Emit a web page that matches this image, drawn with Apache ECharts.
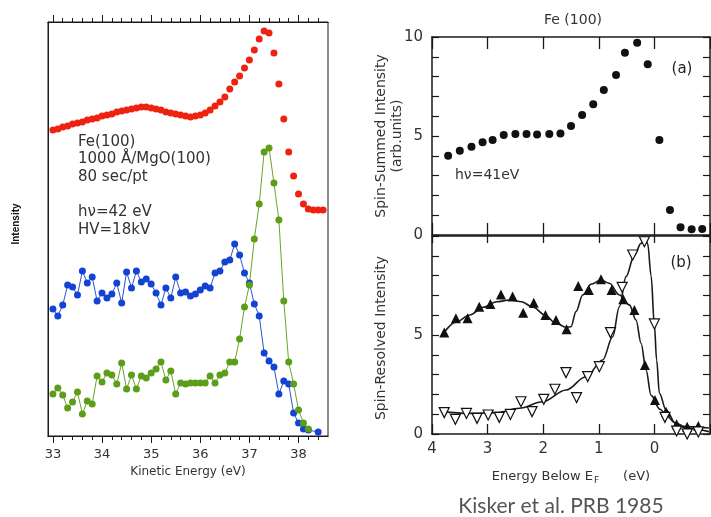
<!DOCTYPE html>
<html>
<head>
<meta charset="utf-8">
<title>Fe(100)</title>
<script src="https://cdn.jsdelivr.net/npm/echarts@6/dist/echarts.min.js"></script>
<style>
  html, body { margin: 0; padding: 0; background: #fff; }
  #chart { width: 711px; height: 517px; }
</style>
</head>
<body>
<div id="chart"></div>
<script>
// ---- left panel: kinetic energy scan (eV), arbitrary counts ----
var kineticEnergy = [
  33.0, 33.1, 33.2, 33.3, 33.4, 33.5, 33.6, 33.7, 33.8, 33.9,
  34.0, 34.1, 34.2, 34.3, 34.4, 34.5, 34.6, 34.7, 34.8, 34.9,
  35.0, 35.1, 35.2, 35.3, 35.4, 35.5, 35.6, 35.7, 35.8, 35.9,
  36.0, 36.1, 36.2, 36.3, 36.4, 36.5, 36.6, 36.7, 36.8, 36.9,
  37.0, 37.1, 37.2, 37.3, 37.4, 37.5, 37.6, 37.7, 37.8, 37.9,
  38.0, 38.1, 38.2, 38.3, 38.4, 38.5
];
var redCounts = [
  306, 307, 309, 310, 312, 313, 314, 316, 317, 318,
  320, 321, 322, 324, 325, 326, 327, 328, 329, 329,
  328, 327, 326, 324, 323, 322, 321, 320, 319, 320,
  321, 323, 326, 330, 334, 339, 347, 354, 360, 368,
  376, 386, 397, 405, 403, 383, 352, 317, 284, 260,
  242, 232, 227, 226, 226, 226
];
var blueCounts = [
  127, 120, 131, 151, 149, 141, 165, 153, 159, 135,
  143, 138, 142, 153, 133, 164, 148, 165, 154, 157,
  152, 143, 131, 148, 138, 159, 143, 144, 140, 142,
  146, 150, 148, 163, 165, 174, 176, 192, 181, 163,
  153, 132, 120, 83, 75, 69, 42, 55, 52, 23,
  13, 7, 6, null, 4
];
var greenCounts = [
  42, 48, 41, 28, 34, 44, 22, 35, 32, 60,
  54, 63, 61, 52, 73, 47, 61, 47, 60, 58,
  63, 67, 74, 56, 65, 42, 53, 52, 53, 53,
  53, 53, 60, 53, 61, 63, 74, 74, 97, 129,
  151, 197, 232, 284, 288, 253, 216, 135, 74, 52,
  26, 13, 7
];
var kineticMajorTicks = [33, 34, 35, 36, 37, 38];
var kineticMinorTicks = [
  33.2, 33.4, 33.6, 33.8, 34.2, 34.4, 34.6, 34.8, 35.2, 35.4, 35.6, 35.8,
  36.2, 36.4, 36.6, 36.8, 37.2, 37.4, 37.6, 37.8, 38.2, 38.4
];

// ---- right panel: energy below E_F (eV) ----
var summedEnergy = [3.71, 3.50, 3.29, 3.09, 2.91, 2.71, 2.50, 2.30, 2.11, 1.89, 1.69, 1.50,
  1.30, 1.10, 0.91, 0.69, 0.53, 0.31, 0.12, -0.09, -0.28, -0.47, -0.67, -0.86];
var summedIntensity = [4.0, 4.26, 4.46, 4.68, 4.8, 5.05, 5.1, 5.1, 5.08, 5.1, 5.13, 5.5,
  6.06, 6.6, 7.32, 8.08, 9.2, 9.71, 8.62, 4.8, 1.26, 0.39, 0.29, 0.3];

var majorityEnergy = [3.78, 3.57, 3.36, 3.15, 2.95, 2.76, 2.55, 2.36, 2.17, 1.96, 1.77, 1.58,
  1.37, 1.18, 0.96, 0.77, 0.56, 0.36, 0.17, -0.01, -0.21, -0.40, -0.59, -0.79];
var majorityIntensity = [5.12, 5.84, 5.84, 6.43, 6.57, 7.05, 6.94, 6.13, 6.63, 6.01, 5.76, 5.29,
  7.47, 7.27, 7.81, 7.27, 6.8, 6.26, 3.48, 1.72, 1.13, 0.49, 0.37, 0.4];
var minorityEnergy = [3.78, 3.58, 3.38, 3.19, 2.99, 2.79, 2.59, 2.40, 2.20, 1.99, 1.79, 1.59,
  1.40, 1.20, 0.99, 0.79, 0.58, 0.39, 0.18, 0.0, -0.19, -0.40, -0.59, -0.79];
var minorityIntensity = [1.08, 0.74, 1.04, 0.79, 0.96, 0.84, 0.99, 1.63, 1.13, 1.75, 2.26, 3.1,
  1.84, 2.9, 3.4, 5.12, 7.41, 9.04, 9.71, 5.56, 0.84, 0.15, 0.0, 0.1];

var majorityFitEnergy = [3.83, 3.56, 3.32, 3.08, 2.84, 2.60, 2.39, 2.18, 1.97, 1.77, 1.59, 1.50,
  1.41, 1.29, 1.14, 0.96, 0.81, 0.63, 0.45, 0.33, 0.24, 0.15, 0.06, -0.10, -0.23, -0.36, -0.56, -0.98];
var majorityFit = [4.95, 5.67, 6.01, 6.4, 6.68, 6.77, 6.68, 6.4, 6.01, 5.59, 5.39, 5.42,
  6.18, 7.02, 7.56, 7.78, 7.61, 7.02, 6.52, 5.76, 4.58, 3.23, 1.95, 1.25, 0.9, 0.58, 0.37, 0.3];
var minorityFitEnergy = [3.83, 3.32, 2.84, 2.43, 2.01, 1.59, 1.23, 0.93, 0.75, 0.63, 0.51, 0.36,
  0.24, 0.17, 0.12, 0.06, 0.0, -0.04, -0.09, -0.21, -0.38, -0.55, -0.98];
var minorityFit = [1.13, 1.04, 1.08, 1.30, 1.63, 2.22, 2.89, 3.74, 4.91, 6.43, 7.95, 9.04,
  9.63, 9.95, 9.6, 8.0, 5.5, 3.74, 2.06, 1.21, 0.54, 0.3, 0.12];

var bindingTickLabels = [4, 3, 2, 1, 0];
var summedTickLabels = [0, 5, 10];
var resolvedTickLabels = [0, 5];

function pairs(xs, ys) {
  return ys.map(function (y, i) { return [xs[i], y]; });
}

var ink = '#1a1a1a';
var scanFont = 'DejaVu Sans';

function leftX(pos, ticks, len, withLabel) {
  return {
    gridIndex: 0, type: 'value', min: 32.9, max: 38.6, position: pos,
    axisLine: { show: true, onZero: false, lineStyle: { color: ink, width: 1 } },
    axisTick: { show: true, inside: false, length: len, customValues: ticks,
      lineStyle: { color: ink, width: 1 } },
    axisLabel: withLabel
      ? { show: true, customValues: ticks, fontSize: 13, color: '#333', margin: 12, fontFamily: scanFont }
      : { show: false },
    splitLine: { show: false }
  };
}

function rightX(grid, pos, len) {
  return {
    gridIndex: grid, type: 'value', min: -1, max: 4, interval: 1, inverse: true, position: pos,
    axisLine: { show: true, onZero: false, lineStyle: { color: ink, width: 1.5 } },
    axisTick: { show: true, inside: true, length: len, lineStyle: { color: ink, width: 1.3 } },
    axisLabel: { show: false },
    splitLine: { show: false }
  };
}

function rightY(grid, pos, labels) {
  return {
    gridIndex: grid, type: 'value', min: 0, max: 10, interval: 1, position: pos,
    axisLine: { show: true, onZero: false, lineStyle: { color: ink, width: 1.5 } },
    axisTick: { show: true, inside: true, length: 7, lineStyle: { color: ink, width: 1.2 } },
    axisLabel: labels
      ? { show: true, customValues: labels, fontSize: 15, color: '#333', margin: 9, fontFamily: scanFont }
      : { show: false },
    splitLine: { show: false }
  };
}

var xb = rightX(2, 'bottom', 10);
xb.axisLabel = { show: true, customValues: bindingTickLabels, fontSize: 15, color: '#333', margin: 8, fontFamily: scanFont };
xb.name = '{a|Energy Below E}{s|F}{g|}{a|(eV)}';
xb.nameLocation = 'middle';
xb.nameGap = 35;
xb.nameTextStyle = {
  rich: {
    a: { fontSize: 13, color: '#333', fontFamily: scanFont },
    s: { fontSize: 9, color: '#333', fontFamily: scanFont, padding: [7, 0, 0, 1] },
    g: { width: 24 }
  }
};

var leftBottom = leftX('bottom', kineticMajorTicks, 7, true);
leftBottom.name = 'Kinetic Energy (eV)';
leftBottom.nameLocation = 'middle';
leftBottom.nameGap = 27;
leftBottom.nameTextStyle = { fontSize: 12, color: '#333', fontFamily: scanFont };

var option = {
  backgroundColor: '#fff',
  animation: false,
  grid: [
    { left: 48, top: 22, width: 280, height: 414, show: true, borderColor: ink, borderWidth: 1 },
    { left: 432, top: 37, width: 278, height: 198 },
    { left: 432, top: 236, width: 278, height: 198 }
  ],
  xAxis: [
    leftBottom,
    leftX('bottom', kineticMinorTicks, 4, false),
    leftX('top', kineticMajorTicks, 7, false),
    leftX('top', kineticMinorTicks, 4, false),
    rightX(1, 'bottom', 12),
    rightX(1, 'top', 12),
    xb,
    rightX(2, 'top', 7)
  ],
  yAxis: [
    { gridIndex: 0, type: 'value', min: 0, max: 414,
      axisLine: { show: true, onZero: false, lineStyle: { color: ink, width: 1 } },
      axisTick: { show: false }, axisLabel: { show: false }, splitLine: { show: false } },
    rightY(1, 'left', summedTickLabels),
    rightY(1, 'right', null),
    rightY(2, 'left', resolvedTickLabels),
    rightY(2, 'right', null)
  ],
  series: [
    { type: 'scatter', xAxisIndex: 0, yAxisIndex: 0, symbolSize: 7,
      itemStyle: { color: '#ee2211', opacity: 1 }, data: pairs(kineticEnergy, redCounts) },
    { type: 'line', xAxisIndex: 0, yAxisIndex: 0, symbol: 'circle', symbolSize: 7,
      connectNulls: true, lineStyle: { color: '#2a55d0', width: 1 },
      itemStyle: { color: '#1443d4' }, data: pairs(kineticEnergy, blueCounts) },
    { type: 'line', xAxisIndex: 0, yAxisIndex: 0, symbol: 'circle', symbolSize: 7,
      lineStyle: { color: '#6aa528', width: 1 },
      itemStyle: { color: '#5c9d1a' }, data: pairs(kineticEnergy, greenCounts) },

    { type: 'scatter', xAxisIndex: 4, yAxisIndex: 1, symbolSize: 8,
      itemStyle: { color: '#111', opacity: 1 }, data: pairs(summedEnergy, summedIntensity) },

    { type: 'line', xAxisIndex: 6, yAxisIndex: 3, showSymbol: false, smooth: 0.35,
      smoothMonotone: 'x', lineStyle: { color: ink, width: 1.6 },
      data: pairs(majorityFitEnergy, majorityFit) },
    { type: 'line', xAxisIndex: 6, yAxisIndex: 3, showSymbol: false, smooth: 0.35,
      smoothMonotone: 'x', lineStyle: { color: ink, width: 1.6 },
      data: pairs(minorityFitEnergy, minorityFit) },
    { type: 'scatter', xAxisIndex: 6, yAxisIndex: 3, symbol: 'triangle', symbolSize: 10, z: 5,
      itemStyle: { color: '#111', opacity: 1 }, data: pairs(majorityEnergy, majorityIntensity) },
    { type: 'scatter', xAxisIndex: 6, yAxisIndex: 3, symbol: 'triangle', symbolRotate: 180,
      symbolSize: 10, z: 5,
      itemStyle: { color: '#fff', borderColor: '#111', borderWidth: 1.2, opacity: 1 },
      data: pairs(minorityEnergy, minorityIntensity) }
  ],
  graphic: [
    { type: 'text', x: 78, y: 142, style: { text: 'Fe(100)', font: '15px "DejaVu Sans"', fill: '#333', verticalAlign: 'middle' } },
    { type: 'text', x: 78, y: 159, style: { text: '1000 Å/MgO(100)', font: '15px "DejaVu Sans"', fill: '#333', verticalAlign: 'middle' } },
    { type: 'text', x: 78, y: 177, style: { text: '80 sec/pt', font: '15px "DejaVu Sans"', fill: '#333', verticalAlign: 'middle' } },
    { type: 'text', x: 78, y: 212, style: { text: 'hν=42 eV', font: '15px "DejaVu Sans"', fill: '#333', verticalAlign: 'middle' } },
    { type: 'text', x: 78, y: 230, style: { text: 'HV=18kV', font: '15px "DejaVu Sans"', fill: '#333', verticalAlign: 'middle' } },
    { type: 'text', x: 16, y: 224, rotation: Math.PI / 2,
      style: { text: 'Intensity', font: 'bold 10px "Liberation Sans"', fill: '#111', align: 'center', verticalAlign: 'middle' } },

    { type: 'text', x: 573, y: 20, style: { text: 'Fe (100)', font: '14px "DejaVu Sans"', fill: '#333', align: 'center', verticalAlign: 'middle' } },
    { type: 'text', x: 381, y: 136, rotation: Math.PI / 2,
      style: { text: 'Spin-Summed Intensity', font: '14px "DejaVu Sans"', fill: '#333', align: 'center', verticalAlign: 'middle' } },
    { type: 'text', x: 397, y: 136, rotation: Math.PI / 2,
      style: { text: '(arb.units)', font: '14px "DejaVu Sans"', fill: '#333', align: 'center', verticalAlign: 'middle' } },
    { type: 'text', x: 381, y: 338, rotation: Math.PI / 2,
      style: { text: 'Spin-Resolved Intensity', font: '14px "DejaVu Sans"', fill: '#333', align: 'center', verticalAlign: 'middle' } },
    { type: 'text', x: 682, y: 69, style: { text: '(a)', font: '15px "DejaVu Sans"', fill: '#222', align: 'center', verticalAlign: 'middle' } },
    { type: 'text', x: 681, y: 263, style: { text: '(b)', font: '15px "DejaVu Sans"', fill: '#222', align: 'center', verticalAlign: 'middle' } },
    { type: 'text', x: 455, y: 175, style: { text: 'hν=41eV', font: '14px "DejaVu Sans"', fill: '#333', verticalAlign: 'middle' } },
    { type: 'text', x: 561, y: 506, style: { text: 'Kisker et al. PRB 1985', font: '21px Lato', fill: '#555', align: 'center', verticalAlign: 'middle' } }
  ]
};

var chart = echarts.init(document.getElementById('chart'), null, { renderer: 'canvas' });
chart.setOption(option);
</script>
</body>
</html>
